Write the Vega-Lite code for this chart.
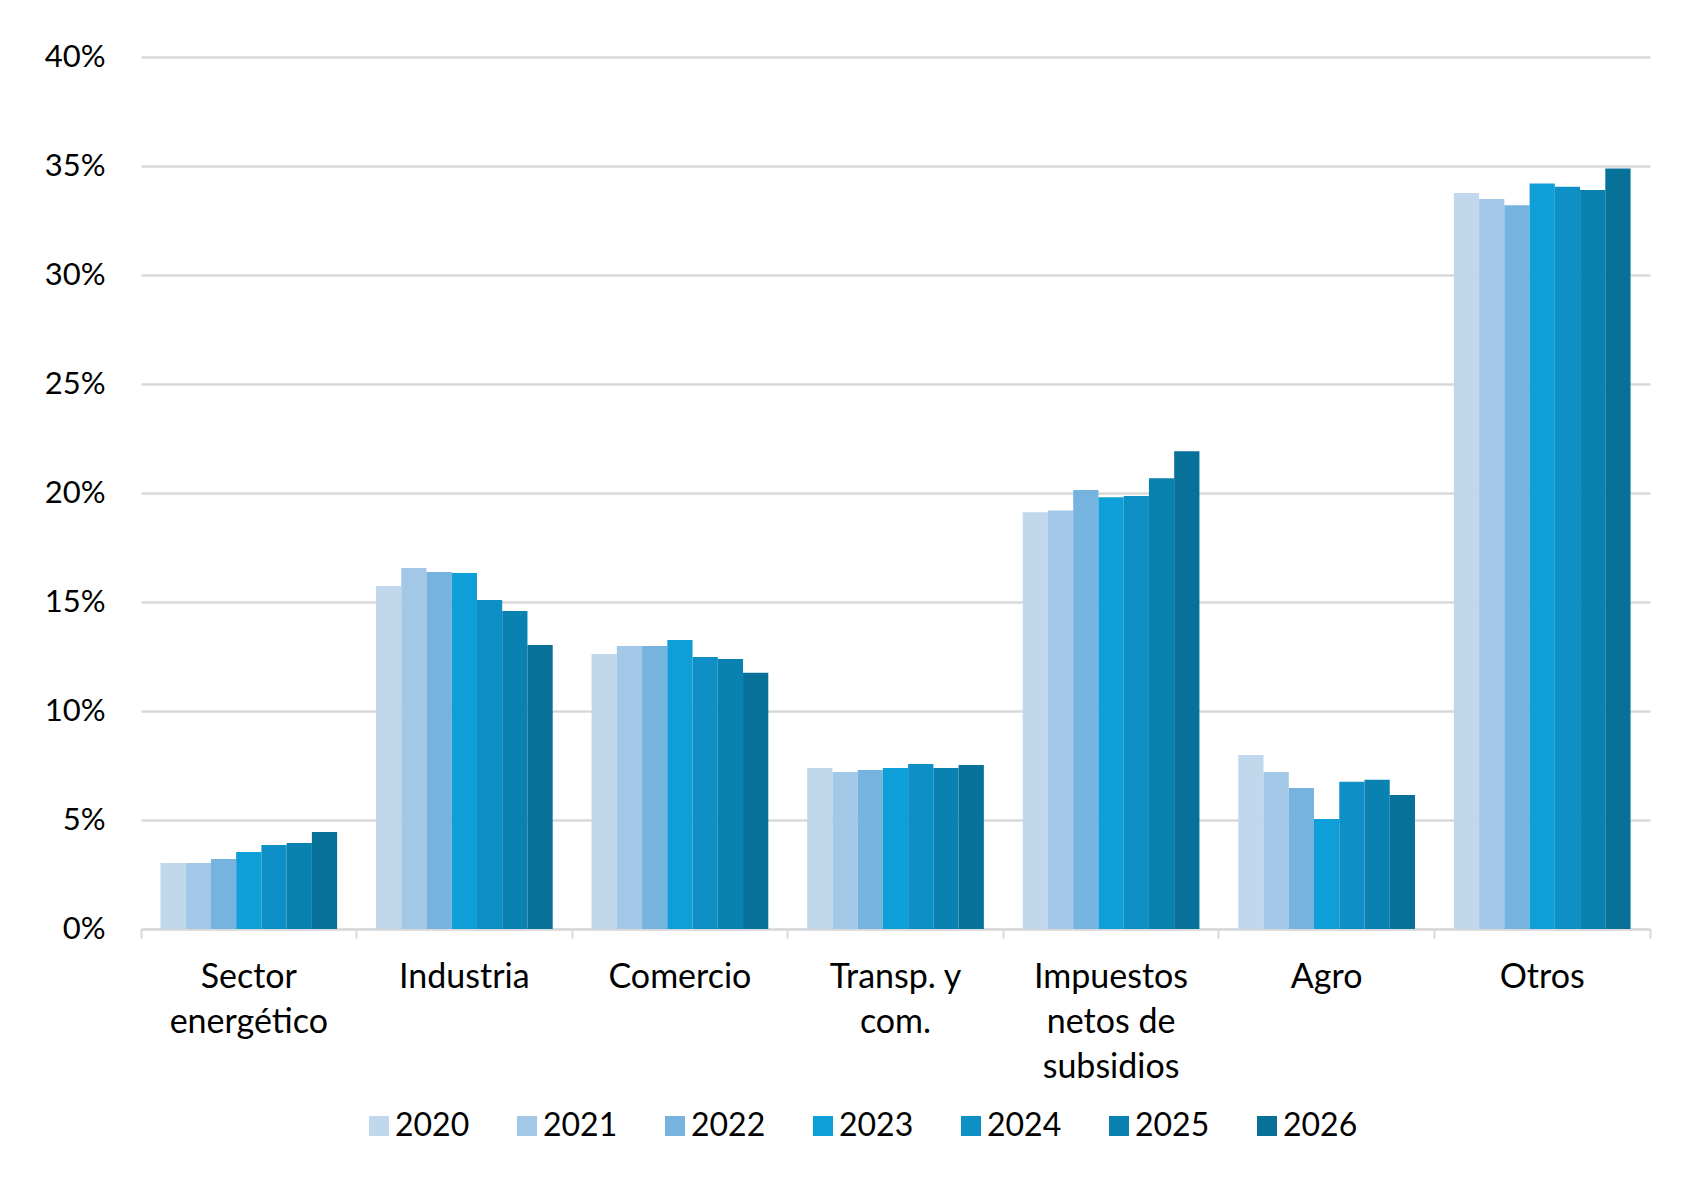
{
  "$schema": "https://vega.github.io/schema/vega-lite/v6.json",
  "width": 1509,
  "height": 872,
  "autosize": {"type": "none"},
  "padding": {"left": 141, "top": 57, "right": 55, "bottom": 248},
  "background": "white",
  "config": {
    "view": {"stroke": null},
    "font": "Lato",
    "axis": {"labelFont": "Lato", "labelColor": "#000000"},
    "legend": {"labelFont": "Lato"}
  },
  "data": {
    "values": [
      {"sector": "Sector energético", "year": "2020", "value": 3.03},
      {"sector": "Sector energético", "year": "2021", "value": 3.03},
      {"sector": "Sector energético", "year": "2022", "value": 3.21},
      {"sector": "Sector energético", "year": "2023", "value": 3.53},
      {"sector": "Sector energético", "year": "2024", "value": 3.85},
      {"sector": "Sector energético", "year": "2025", "value": 3.94},
      {"sector": "Sector energético", "year": "2026", "value": 4.45},
      {"sector": "Industria", "year": "2020", "value": 15.73},
      {"sector": "Industria", "year": "2021", "value": 16.56},
      {"sector": "Industria", "year": "2022", "value": 16.38},
      {"sector": "Industria", "year": "2023", "value": 16.33},
      {"sector": "Industria", "year": "2024", "value": 15.09},
      {"sector": "Industria", "year": "2025", "value": 14.59},
      {"sector": "Industria", "year": "2026", "value": 13.03},
      {"sector": "Comercio", "year": "2020", "value": 12.61},
      {"sector": "Comercio", "year": "2021", "value": 12.98},
      {"sector": "Comercio", "year": "2022", "value": 12.98},
      {"sector": "Comercio", "year": "2023", "value": 13.26},
      {"sector": "Comercio", "year": "2024", "value": 12.48},
      {"sector": "Comercio", "year": "2025", "value": 12.39},
      {"sector": "Comercio", "year": "2026", "value": 11.75},
      {"sector": "Transp. y com.", "year": "2020", "value": 7.39},
      {"sector": "Transp. y com.", "year": "2021", "value": 7.2},
      {"sector": "Transp. y com.", "year": "2022", "value": 7.29},
      {"sector": "Transp. y com.", "year": "2023", "value": 7.39},
      {"sector": "Transp. y com.", "year": "2024", "value": 7.57},
      {"sector": "Transp. y com.", "year": "2025", "value": 7.39},
      {"sector": "Transp. y com.", "year": "2026", "value": 7.52},
      {"sector": "Impuestos netos de subsidios", "year": "2020", "value": 19.12},
      {"sector": "Impuestos netos de subsidios", "year": "2021", "value": 19.2},
      {"sector": "Impuestos netos de subsidios", "year": "2022", "value": 20.14},
      {"sector": "Impuestos netos de subsidios", "year": "2023", "value": 19.8},
      {"sector": "Impuestos netos de subsidios", "year": "2024", "value": 19.86},
      {"sector": "Impuestos netos de subsidios", "year": "2025", "value": 20.68},
      {"sector": "Impuestos netos de subsidios", "year": "2026", "value": 21.92},
      {"sector": "Agro", "year": "2020", "value": 7.98},
      {"sector": "Agro", "year": "2021", "value": 7.2},
      {"sector": "Agro", "year": "2022", "value": 6.47},
      {"sector": "Agro", "year": "2023", "value": 5.05},
      {"sector": "Agro", "year": "2024", "value": 6.75},
      {"sector": "Agro", "year": "2025", "value": 6.85},
      {"sector": "Agro", "year": "2026", "value": 6.15},
      {"sector": "Otros", "year": "2020", "value": 33.76},
      {"sector": "Otros", "year": "2021", "value": 33.49},
      {"sector": "Otros", "year": "2022", "value": 33.2},
      {"sector": "Otros", "year": "2023", "value": 34.2},
      {"sector": "Otros", "year": "2024", "value": 34.05},
      {"sector": "Otros", "year": "2025", "value": 33.9},
      {"sector": "Otros", "year": "2026", "value": 34.88}
    ]
  },
  "mark": {"type": "bar"},
  "encoding": {
    "x": {
      "field": "sector",
      "type": "nominal",
      "sort": null,
      "scale": {"paddingInner": 0, "paddingOuter": 0},
      "axis": {
        "title": null,
        "labelAngle": 0,
        "labelFontSize": 34,
        "labelLineHeight": 45,
        "labelPadding": 22,
        "labelBaseline": "top",
        "labelExpr": "datum.value == 'Sector energético' ? ['Sector', 'energético'] : datum.value == 'Transp. y com.' ? ['Transp. y', 'com.'] : datum.value == 'Impuestos netos de subsidios' ? ['Impuestos', 'netos de', 'subsidios'] : datum.value",
        "domainColor": "#d9d9d9",
        "domainWidth": 2,
        "tickColor": "#d9d9d9",
        "tickWidth": 2,
        "tickSize": 9,
        "bandPosition": 1,
        "tickExtra": true,
        "grid": false
      }
    },
    "xOffset": {
      "field": "year",
      "type": "nominal",
      "scale": {"paddingInner": 0, "paddingOuter": 0.77}
    },
    "y": {
      "field": "value",
      "type": "quantitative",
      "scale": {"domain": [0, 40], "nice": false},
      "axis": {
        "title": null,
        "values": [0, 5, 10, 15, 20, 25, 30, 35, 40],
        "labelExpr": "datum.value + '%'",
        "labelFontSize": 31,
        "labelPadding": 36,
        "domain": false,
        "ticks": false,
        "grid": true,
        "gridColor": "#d9d9d9",
        "gridWidth": 2.5
      }
    },
    "color": {
      "field": "year",
      "type": "nominal",
      "scale": {
        "domain": ["2020", "2021", "2022", "2023", "2024", "2025", "2026"],
        "range": ["#c1d8ec", "#a2c7e7", "#76b3de", "#0f9fd8", "#0e90c6", "#0a82b1", "#077199"]
      },
      "legend": {
        "title": null,
        "orient": "none",
        "legendX": 222,
        "legendY": 1053,
        "direction": "horizontal",
        "symbolType": "square",
        "symbolSize": 400,
        "symbolStrokeWidth": 0,
        "labelFontSize": 32,
        "labelColor": "#000000",
        "labelOffset": 0,
        "columnPadding": 41
      }
    }
  }
}
